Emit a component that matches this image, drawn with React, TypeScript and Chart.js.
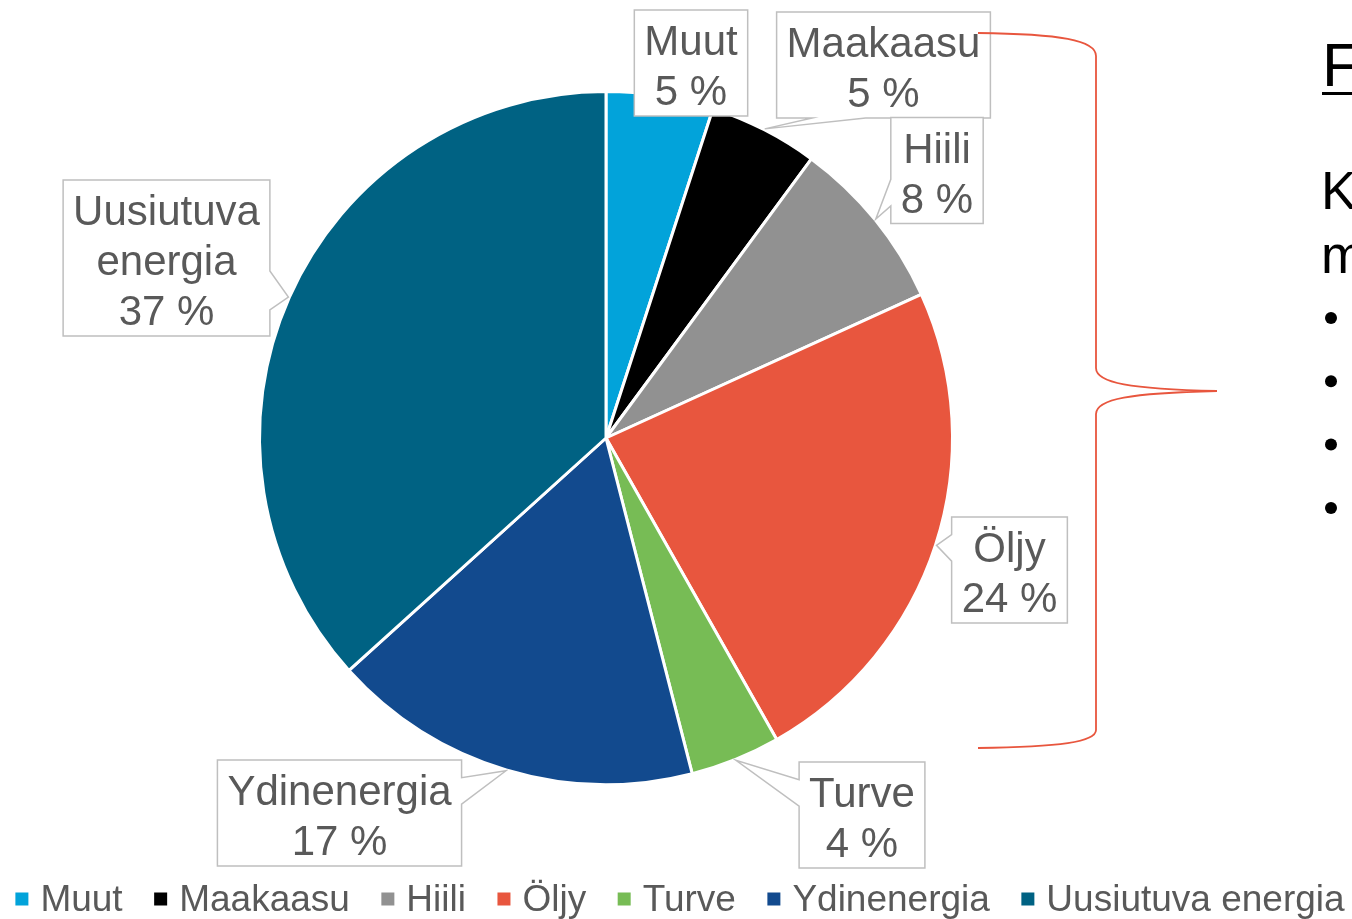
import React, { useEffect, useRef } from "react";
import { Chart, registerables } from "chart.js";

Chart.register(...registerables);

// ---- data ----
const categories = ["Muut", "Maakaasu", "Hiili", "Öljy", "Turve", "Ydinenergia", "Uusiutuva energia"];
const shares = [5.0, 5.1, 8.1, 23.6, 4.2, 17.3, 36.7];
const sliceColors = ["#02A3DA", "#000000", "#919191", "#E8563E", "#77BC55", "#124A8E", "#006283"];
const sideTitle = "F";
const sideLines = ["K", "m"];
const bulletCount = 4;

// ---- layout (callout box centres relative to pie centre) ----
const calloutOffsets: number[][] = [
  [85, -375],
  [277.5, -373],
  [331, -267.5],
  [403.5, 132],
  [256, 377],
  [-266.5, 375],
  [-439.5, -180],
];

const FONT = '"Liberation Sans", Arial, sans-serif';
const TEXT_GRAY = "#595959";

function calloutPath(ctx: CanvasRenderingContext2D, l: number, t: number, w: number, h: number, tip: { x: number; y: number } | null) {
  const r = l + w, b = t + h;
  let side = "";
  let a1 = 0, a2 = 0;
  if (tip) {
    const cx = l + w / 2, cy = t + h / 2;
    const dx = tip.x - cx, dy = tip.y - cy;
    const dq = (dx * h) / w;
    if (Math.abs(dy) <= Math.abs(dq)) {
      side = dx < 0 ? "left" : "right";
      const g1 = dy > 0 ? 7 : 2, g2 = dy > 0 ? 10 : 5;
      a1 = t + (h * g1) / 12;
      a2 = t + (h * g2) / 12;
    } else {
      side = dy < 0 ? "top" : "bottom";
      const g1 = dx > 0 ? 7 : 2, g2 = dx > 0 ? 10 : 5;
      a1 = l + (w * g1) / 12;
      a2 = l + (w * g2) / 12;
    }
  }
  ctx.beginPath();
  ctx.moveTo(l, t);
  if (side === "top" && tip) { ctx.lineTo(a1, t); ctx.lineTo(tip.x, tip.y); ctx.lineTo(a2, t); }
  ctx.lineTo(r, t);
  if (side === "right" && tip) { ctx.lineTo(r, a1); ctx.lineTo(tip.x, tip.y); ctx.lineTo(r, a2); }
  ctx.lineTo(r, b);
  if (side === "bottom" && tip) { ctx.lineTo(a2, b); ctx.lineTo(tip.x, tip.y); ctx.lineTo(a1, b); }
  ctx.lineTo(l, b);
  if (side === "left" && tip) { ctx.lineTo(l, a2); ctx.lineTo(tip.x, tip.y); ctx.lineTo(l, a1); }
  ctx.closePath();
}

const calloutPlugin = {
  id: "callouts",
  afterDatasetsDraw(chart: any) {
    const ctx: CanvasRenderingContext2D = chart.ctx;
    const meta = chart.getDatasetMeta(0);
    const values: number[] = chart.data.datasets[0].data;
    ctx.save();
    ctx.font = `42px ${FONT}`;
    meta.data.forEach((arc: any, i: number) => {
      const { x, y, startAngle, endAngle, outerRadius } = arc.getProps(["x", "y", "startAngle", "endAngle", "outerRadius"], true);
      const mid = (startAngle + endAngle) / 2;
      const tr = outerRadius + 1;
      const tip = { x: x + tr * Math.cos(mid), y: y + tr * Math.sin(mid) };
      const lines = [...String(chart.data.labels[i]).split(" "), `${Math.round(values[i])} %`];
      const tw = Math.max(...lines.map((s) => ctx.measureText(s).width));
      const w = tw + 20;
      const h = lines.length * 50 + 6;
      const cx = x + calloutOffsets[i][0];
      const cy = y + calloutOffsets[i][1];
      const l = cx - w / 2, t = cy - h / 2;
      const inside = tip.x >= l && tip.x <= l + w && tip.y >= t && tip.y <= t + h;
      calloutPath(ctx, l, t, w, h, inside ? null : tip);
      ctx.fillStyle = "#FFFFFF";
      ctx.fill();
      ctx.strokeStyle = "#BFBFBF";
      ctx.lineWidth = 1.5;
      ctx.stroke();
      ctx.fillStyle = TEXT_GRAY;
      ctx.textAlign = "center";
      ctx.textBaseline = "alphabetic";
      lines.forEach((s, k) => {
        ctx.fillText(s, cx, t + 30 + k * 50 + 15);
      });
    });
    ctx.restore();
  },
  afterDraw(chart: any) {
    const ctx: CanvasRenderingContext2D = chart.ctx;
    const W = chart.width;
    ctx.save();
    // brace
    ctx.strokeStyle = "#E8563E";
    ctx.lineWidth = 1.8;
    ctx.beginPath();
    ctx.moveTo(978, 33);
    ctx.bezierCurveTo(1060, 34, 1096, 40, 1096, 56);
    ctx.lineTo(1096, 368);
    ctx.bezierCurveTo(1096, 383, 1130, 389, 1217, 391);
    ctx.bezierCurveTo(1130, 393, 1096, 399, 1096, 414);
    ctx.lineTo(1096, 730);
    ctx.bezierCurveTo(1096, 742, 1060, 747, 978, 748);
    ctx.stroke();

    // side text (cut off by the page edge)
    ctx.fillStyle = "#000000";
    ctx.textAlign = "left";
    ctx.textBaseline = "alphabetic";
    ctx.font = `62px ${FONT}`;
    ctx.fillText(sideTitle, 1322, 86);
    ctx.fillRect(1322, 92, W - 1322, 3);
    ctx.font = `53px ${FONT}`;
    sideLines.forEach((s, k) => ctx.fillText(s, 1321, 209 + k * 64));
    for (let k = 0; k < bulletCount; k++) {
      ctx.beginPath();
      ctx.arc(1331, 318 + k * 63.3, 6, 0, Math.PI * 2);
      ctx.fill();
    }

    // legend
    const labels: string[] = chart.data.labels;
    const cols: string[] = chart.data.datasets[0].backgroundColor;
    ctx.font = `37px ${FONT}`;
    const box = 13, textGap = 25, itemGap = 31.5;
    const widths = labels.map((s) => ctx.measureText(s).width);
    const total = widths.reduce((a, b) => a + b + textGap, 0) + itemGap * (labels.length - 1);
    let lx = (W - total) / 2 + 4;
    labels.forEach((s, k) => {
      ctx.fillStyle = cols[k];
      ctx.fillRect(lx, 892.5, box, box);
      ctx.fillStyle = TEXT_GRAY;
      ctx.fillText(s, lx + textGap, 911);
      lx += textGap + widths[k] + itemGap;
    });
    ctx.restore();
  },
};

export default function App() {
  const ref = useRef<HTMLCanvasElement | null>(null);
  useEffect(() => {
    if (!ref.current) return;
    const chart = new Chart(ref.current, {
      type: "pie",
      data: {
        labels: categories,
        datasets: [
          {
            data: shares,
            backgroundColor: sliceColors,
            borderColor: "#FFFFFF",
            borderWidth: 3,
          },
        ],
      },
      options: {
        responsive: false,
        animation: false,
        events: [],
        layout: { padding: { left: 258, top: 90, right: 398, bottom: 133 } },
        plugins: {
          legend: { display: false },
          tooltip: { enabled: false },
          title: { display: false },
        },
      },
      plugins: [calloutPlugin],
    });
    return () => chart.destroy();
  }, []);
  return (
    <div style={{ position: "fixed", left: 0, top: 0, width: 1352, height: 919, background: "#FFFFFF" }}>
      <canvas ref={ref} width={1352} height={919} style={{ display: "block" }} />
    </div>
  );
}
